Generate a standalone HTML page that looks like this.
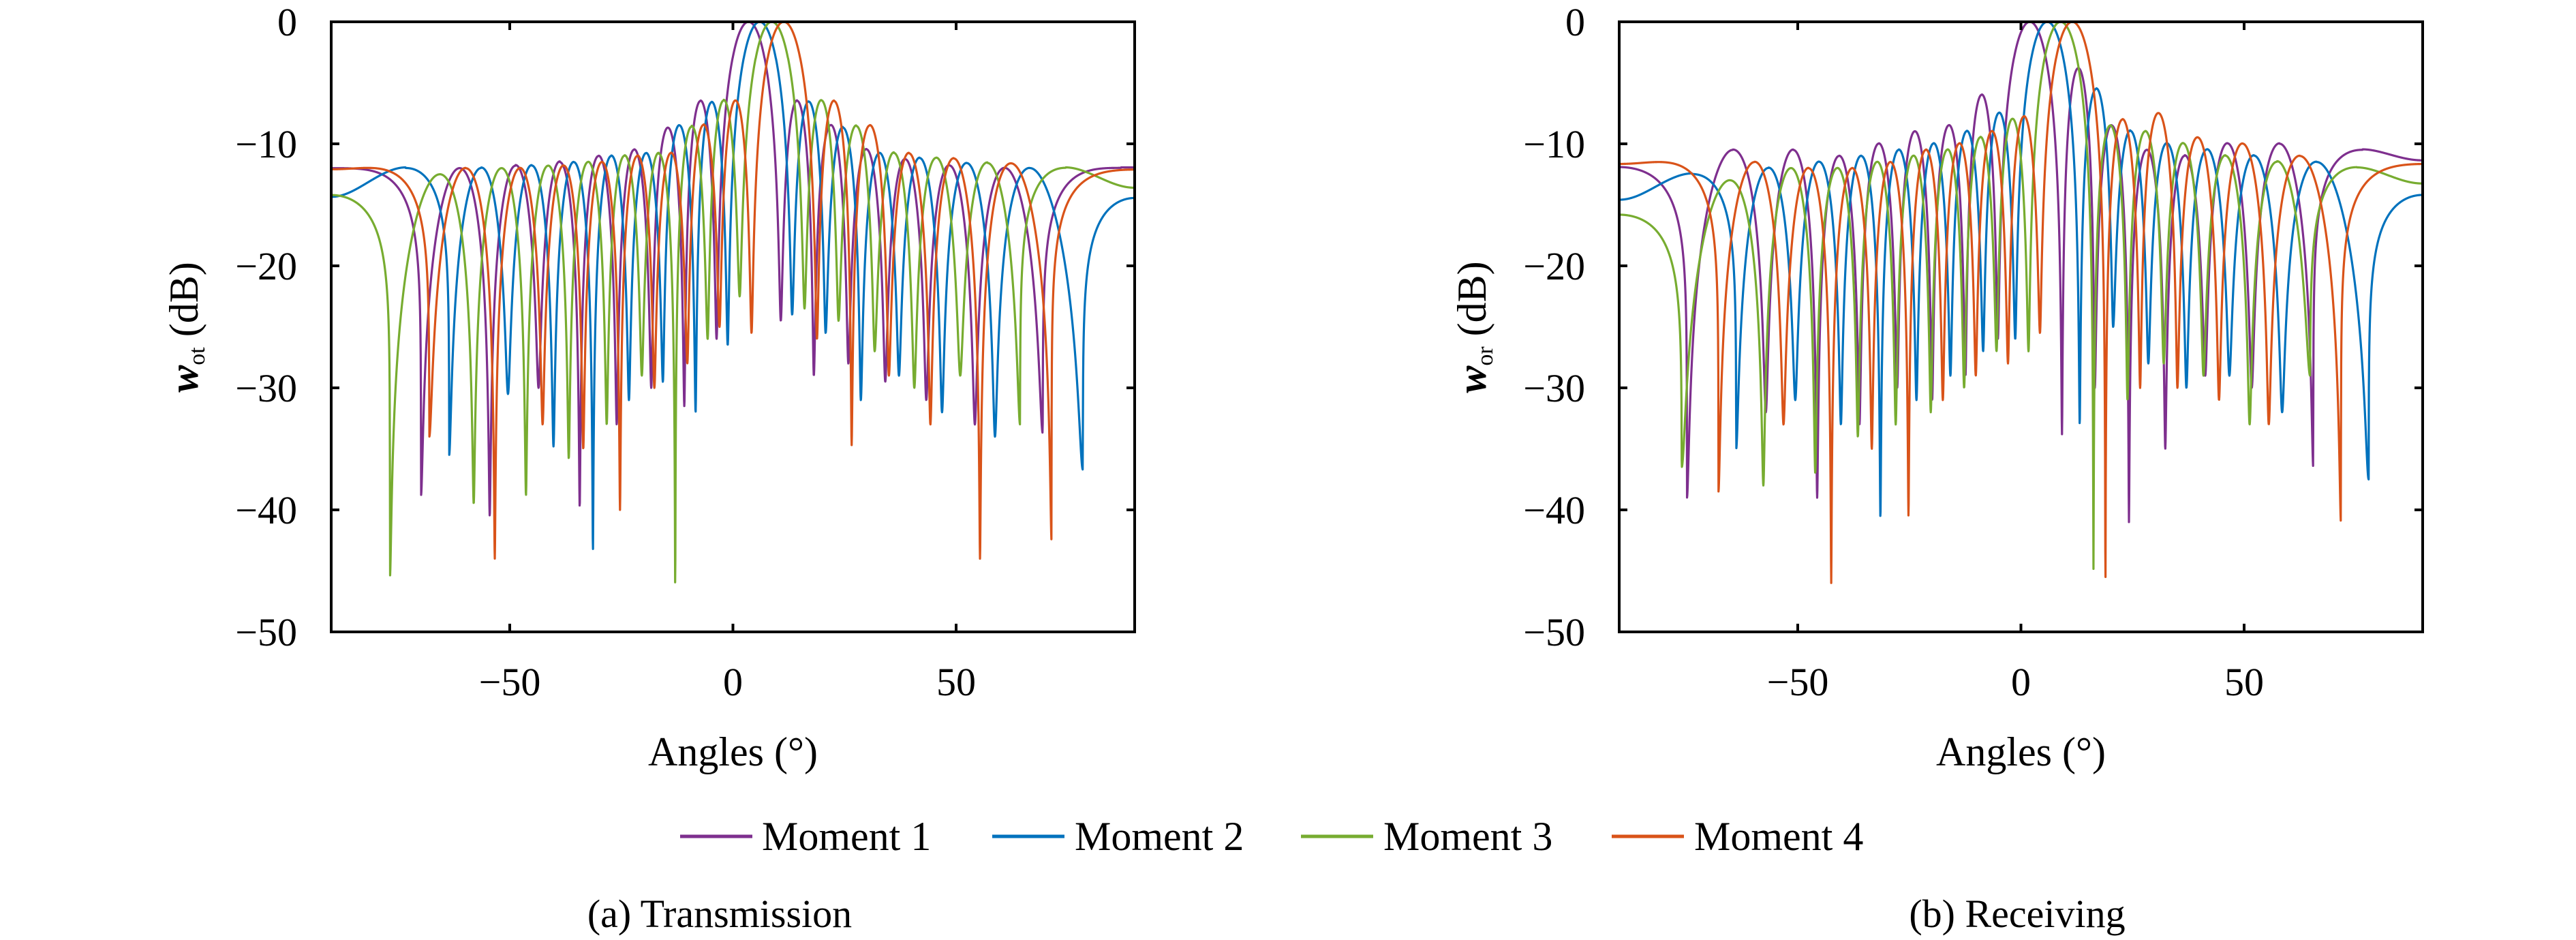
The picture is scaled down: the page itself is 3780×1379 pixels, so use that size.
<!DOCTYPE html>
<html><head><meta charset="utf-8"><style>
html,body{margin:0;padding:0;background:#fff;}
svg{display:block;font-family:"Liberation Serif",serif;}
</style></head><body>
<svg id="fig" width="3780" height="1379" viewBox="0 0 3780 1379" xmlns="http://www.w3.org/2000/svg">
<defs>
<clipPath id="clipL"><rect x="486" y="32" width="1179" height="895"/></clipPath>
<clipPath id="clipR"><rect x="2376" y="32" width="1179" height="895"/></clipPath>
</defs>
<g id="plotL"></g>
<g id="plotR"></g>
<g font-size="60">
<line x1="998" y1="1227" x2="1104" y2="1227" stroke="#7E2F8E" stroke-width="5"/>
<text x="1118" y="1247">Moment 1</text>
<line x1="1456" y1="1227" x2="1562" y2="1227" stroke="#0072BD" stroke-width="5"/>
<text x="1577" y="1247">Moment 2</text>
<line x1="1909" y1="1227" x2="2015" y2="1227" stroke="#77AC30" stroke-width="5"/>
<text x="2030" y="1247">Moment 3</text>
<line x1="2365" y1="1227" x2="2471" y2="1227" stroke="#D95319" stroke-width="5"/>
<text x="2486" y="1247">Moment 4</text>
</g>
<text x="1056" y="1360" font-size="58" text-anchor="middle">(a) Transmission</text>
<text x="2960" y="1360" font-size="58" text-anchor="middle">(b) Receiving</text>
</svg>
<script>
const NS = "http://www.w3.org/2000/svg";
const colors = ["#7E2F8E", "#0072BD", "#77AC30", "#D95319"];
const seriesNames = ["Moment 1", "Moment 2", "Moment 3", "Moment 4"];
const xTicks = [-50, 0, 50];
const yTicks = [0, -10, -20, -30, -40, -50];
const lobeSpacing = 0.125;

// Transmission: steering angles (deg), lobe peaks (k=-9..9, dB), null depths (k=-9..-1,1..9, dB)
const txSteer = [3.5, 6, 8.7, 11.4];
const txPeaks1 = [-12,-12,-12,-11.8,-11.5,-11,-10.5,-8.7,-6.5,0,-6.5,-8.5,-10.5,-11.3,-11.8,-12,-12,-12,-12];
const txPeaks2 = [-12,-12,-12,-11.8,-11.5,-11,-10.8,-8.5,-6.6,0,-6.6,-8.7,-10.8,-11.2,-11.6,-12,-12,-12,-12];
const txPeaks3 = [-12.5,-12.5,-12,-11.8,-11.5,-11,-10.8,-8.6,-6.5,0,-6.5,-8.6,-10.8,-11.2,-11.6,-12,-12.8,-12.8,-12.8];
const txPeaks4 = [-12,-12,-12,-11.8,-11.5,-11,-10.8,-8.5,-6.5,0,-6.5,-8.5,-10.8,-11.2,-11.6,-12,-12,-12,-12];
const txDepths1 = [-30,-38.8,-40.5,-30,-39.8,-33,-30,-31.5,-26,-24.5,-29,-28,-29.5,-31,-33,-33.7,-30,-30];
const txDepths2 = [-30,-35.5,-30.5,-34.8,-43.4,-31,-29.5,-32,-26.5,-24,-25.5,-31,-29,-32,-34,-36.7,-30,-30];
const txDepths3 = [-45.5,-39.5,-38.8,-35.8,-33,-29,-47.3,-26,-22.5,-23.5,-24.5,-27,-30,-29,-33,-30,-30,-30];
const txDepths4 = [-34,-44,-33,-35,-40,-30,-28,-25,-25.5,-26,-34.7,-29,-33,-44,-42.5,-30,-30,-30];

// Receiving
const rxSteer = [2, 5.9, 8.9, 11.5];
const rxPeaks1 = [-11.5,-11,-10.5,-10.5,-11,-10,-9,-8.5,-6,0,-3.8,-8.5,-10.5,-11,-10,-10,-10.5,-11,-11.5];
const rxPeaks2 = [-12.5,-12.5,-12,-11.5,-11,-10.5,-10,-9,-7.5,0,-5.5,-9,-10,-10.5,-11,-11.5,-12,-12.5,-12.5];
const rxPeaks3 = [-14.5,-13,-12,-12,-11.5,-11,-10.5,-9.5,-8,0,-8.5,-9,-10,-11,-11.5,-12,-12.5,-14.5,-14.5];
const rxPeaks4 = [-11.5,-11.5,-12,-12,-11.5,-10.5,-10,-9,-7.8,0,-8,-7.5,-9.5,-10,-11,-11.5,-11.5,-11.5,-11.5];
const rxDepths1 = [-30,-39,-32,-39,-33,-30,-31,-29,-26,-33.8,-30,-41,-35,-29,-30,-36.5,-30,-30];
const rxDepths2 = [-30,-35,-31,-33,-40.7,-31,-29,-27,-26,-33,-25,-28,-30,-29,-32,-37.5,-30,-30];
const rxDepths3 = [-36.5,-38,-37,-34,-33,-32,-30,-27,-27,-45,-31,-28,-29,-33,-29,-30,-30,-30];
const rxDepths4 = [-38.5,-33,-46,-35,-40.5,-31,-29,-28,-25.5,-48.5,-30,-30,-31,-33,-41,-30,-30,-30];

const txPeaks = [txPeaks1, txPeaks2, txPeaks3, txPeaks4];
const txDepths = [txDepths1, txDepths2, txDepths3, txDepths4];
const rxPeaks = [rxPeaks1, rxPeaks2, rxPeaks3, rxPeaks4];
const rxDepths = [rxDepths1, rxDepths2, rxDepths3, rxDepths4];

function patternDb(theta, steer, peaks, depths) {
  const u = Math.sin(theta * Math.PI / 180);
  const u0 = Math.sin(steer * Math.PI / 180);
  const rel = (u - u0) / lobeSpacing;
  let amp;
  if (Math.abs(rel) < 1) {
    amp = Math.cos(Math.PI / 2 * rel);
  } else {
    const a = Math.abs(rel);
    const k = Math.floor(a);
    const frac = a - k;
    let idx = (rel > 0 ? k : -k) + 9;
    idx = Math.max(0, Math.min(18, idx));
    const outerU = rel > 0 ? u0 + (k + 1) * lobeSpacing : u0 - (k + 1) * lobeSpacing;
    const partial = Math.abs(outerU) > 1;
    let sh = Math.abs(Math.sin(Math.PI * frac));
    if (partial) sh = Math.pow(sh, 0.4);
    amp = Math.pow(10, peaks[idx] / 20) * sh;
  }
  let n = Math.round(rel);
  if (n === 0) n = rel >= 0 ? 1 : -1;
  let di = n < 0 ? n + 9 : n + 8;
  di = Math.max(0, Math.min(17, di));
  const d = Math.pow(10, depths[di] / 20);
  const w = Math.abs(rel) < 0.5 ? 0 : 1;
  const total = Math.sqrt(amp * amp + w * d * d);
  return 20 * Math.log10(Math.max(total, 1e-6));
}

function el(tag, attrs, parent) {
  const e = document.createElementNS(NS, tag);
  for (const k in attrs) e.setAttribute(k, attrs[k]);
  parent.appendChild(e);
  return e;
}

function drawPlot(g, x0, clipId, steer, peaksArr, depthsArr, subscript, labelX) {
  const x1 = x0 + 1179, y0 = 32, y1 = 927;
  const xs = t => x0 + (t + 90) / 180 * (x1 - x0);
  const ys = v => y0 + (-v) / 50 * (y1 - y0);
  const cg = el("g", {"clip-path": "url(#" + clipId + ")"}, g);
  
  
  for (let s = 0; s < 4; s++) {
    let d = "";
    for (let i = 0; i <= 3600; i++) {
      const t = -90 + i * 0.05;
      const v = Math.max(-60, patternDb(t, steer[s], peaksArr[s], depthsArr[s]));
      d += (i ? "L" : "M") + xs(t).toFixed(2) + " " + ys(v).toFixed(2);
    }
    const p = el("path", {d: d, fill: "none", stroke: colors[s], "stroke-width": 3.2, "stroke-linejoin": "round"}, cg);
    
    
  }
  const frame = el("rect", {x: x0, y: y0, width: x1 - x0, height: y1 - y0, fill: "none", stroke: "#000", "stroke-width": 4}, g);
  
  
  for (const t of xTicks) {
    const x = xs(t);
    const tk = el("path", {d: `M${x} ${y1}V${y1 - 12}M${x} ${y0}V${y0 + 12}`, stroke: "#000", "stroke-width": 4}, g);
    
    
    const lb = el("text", {x: x, y: 1020, "font-size": 58, "text-anchor": "middle"}, g);
    lb.textContent = t < 0 ? "\u2212" + (-t) : String(t);
    
    
  }
  for (const v of yTicks) {
    const y = ys(v);
    const tk = el("path", {d: `M${x0} ${y}H${x0 + 12}M${x1} ${y}H${x1 - 12}`, stroke: "#000", "stroke-width": 4}, g);
    
    
    const lb = el("text", {x: x0 - 50, y: y + 20, "font-size": 58, "text-anchor": "end"}, g);
    lb.textContent = v < 0 ? "\u2212" + (-v) : String(v);
    
    
  }
  const xl = el("text", {x: (x0 + x1) / 2, y: 1123, "font-size": 60, "text-anchor": "middle"}, g);
  xl.textContent = "Angles (\u00B0)";
  
  
  const yl = el("text", {x: 0, y: 0, "font-size": 60, "text-anchor": "middle", transform: `translate(${labelX},480) rotate(-90)`}, g);
  
  
  const t1 = el("tspan", {"font-weight": "bold", "font-style": "italic"}, yl); t1.textContent = "w";
  const t2 = el("tspan", {"font-size": 34, dy: 10}, yl); t2.textContent = subscript;
  const t3 = el("tspan", {dy: -10}, yl); t3.textContent = " (dB)";
}

drawPlot(document.getElementById("plotL"), 486, "clipL", txSteer, txPeaks, txDepths, "ot", 290);
drawPlot(document.getElementById("plotR"), 2376, "clipR", rxSteer, rxPeaks, rxDepths, "or", 2180);
</script>
</body></html>
